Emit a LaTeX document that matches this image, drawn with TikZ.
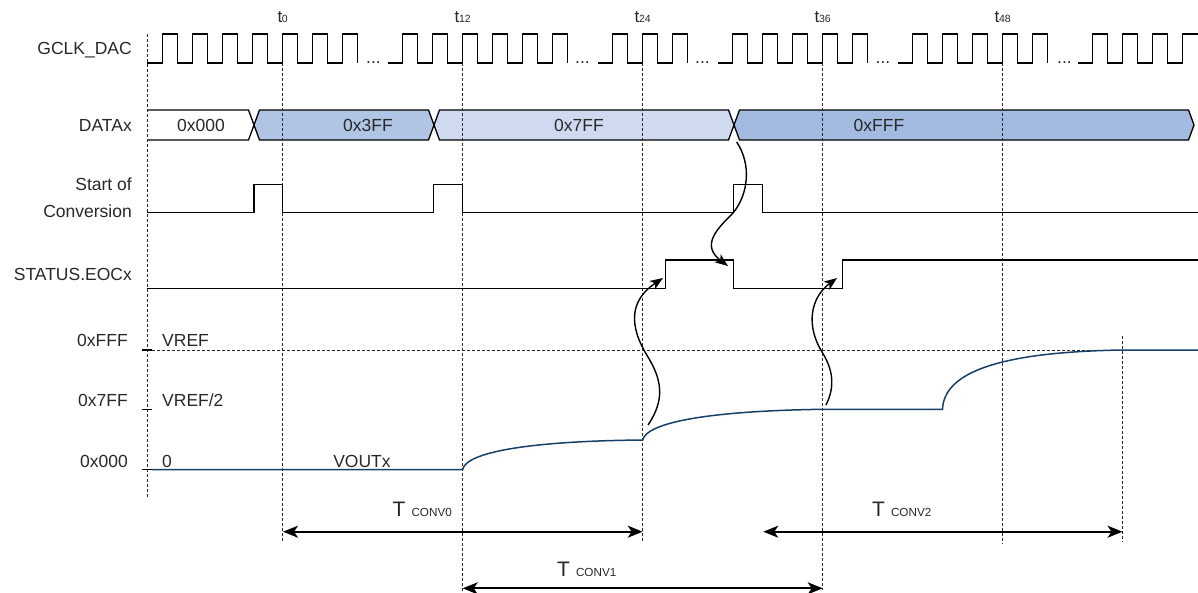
\documentclass[tikz,border=0pt]{standalone}
\usepackage{fontspec}
\setmainfont{Liberation Sans}
\usetikzlibrary{arrows.meta}
\definecolor{bA}{RGB}{176,196,228}
\definecolor{bB}{RGB}{207,218,241}
\definecolor{bC}{RGB}{163,187,224}
\definecolor{voutc}{RGB}{23,64,105}
\definecolor{txt}{RGB}{40,40,40}
\begin{document}
\begin{tikzpicture}[x=1pt,y=-1pt,
  sig/.style={line width=1.3pt, black, line join=miter},
  gridl/.style={dash pattern=on 3pt off 2pt, line width=0.8pt, black!85},
  lbl/.style={font=\fontsize{17.5}{21}\selectfont, text=txt, inner sep=0pt},
  tl/.style={font=\fontsize{17}{19}\selectfont, text=txt, inner sep=0pt},
  voutl/.style={line width=1.5pt, voutc},
  carrow/.style={line width=1.4pt, black, -{Stealth[length=13pt,width=10pt,inset=3.5pt]}},
  tarrow/.style={line width=1.8pt, black, {Stealth[length=15pt,width=12pt,inset=4pt]}-{Stealth[length=15pt,width=12pt,inset=4pt]}}
]
\useasboundingbox (0,0) rectangle (1198,592);

% ---------- DATAx bus fills ----------
\draw[sig] (147,110) -- (248.5,110) -- (254,125) -- (248.5,140) -- (147,140);
\filldraw[sig, fill=bA] (254,125) -- (259.5,110) -- (428.5,110) -- (434,125) -- (428.5,140) -- (259.5,140) -- cycle;
\filldraw[sig, fill=bB] (434,125) -- (439.5,110) -- (728.5,110) -- (734,125) -- (728.5,140) -- (439.5,140) -- cycle;
\filldraw[sig, fill=bC] (734,125) -- (739.5,110) -- (1188.5,110) -- (1194,125) -- (1188.5,140) -- (739.5,140) -- cycle;

% ---------- grid ----------
\draw[gridl] (147,34) -- (147,497);
\draw[gridl] (282.7,63) -- (282.7,541);
\draw[gridl] (462.7,63) -- (462.7,592);
\draw[gridl] (642.7,63) -- (642.7,541);
\draw[gridl] (822.7,63) -- (822.7,590);
\draw[gridl] (1002.7,63) -- (1002.7,544);
\draw[gridl] (1122.5,336) -- (1122.5,542);
\draw[gridl] (152,350) -- (1198,350);

% ---------- clock ----------
\draw[sig] (147,63) \foreach \r in {162.7,192.7,222.7,252.7,282.7,312.7,342.7} { -- (\r,63) -- (\r,34) -- (\r+15,34) -- (\r+15,63) };
\draw[sig] (388,63) \foreach \r in {402.7,432.7,462.7,492.7,522.7,552.7} { -- (\r,63) -- (\r,34) -- (\r+15,34) -- (\r+15,63) };
\draw[sig] (598,63) \foreach \r in {612.7,642.7,672.7} { -- (\r,63) -- (\r,34) -- (\r+15,34) -- (\r+15,63) };
\draw[sig] (718,63) \foreach \r in {732.7,762.7,792.7,822.7,852.7} { -- (\r,63) -- (\r,34) -- (\r+15,34) -- (\r+15,63) };
\draw[sig] (898,63) \foreach \r in {912.7,942.7,972.7,1002.7,1032.7} { -- (\r,63) -- (\r,34) -- (\r+15,34) -- (\r+15,63) };
\draw[sig] (1078,63) \foreach \r in {1092.7,1122.7,1152.7} { -- (\r,63) -- (\r,34) -- (\r+15,34) -- (\r+15,63) } -- (1182.7,63) -- (1182.7,34) -- (1197.5,34);
\node[lbl, anchor=base] (e1) at (373.5,63) {...};
\node[lbl, anchor=base] (e2) at (582.5,63) {...};
\node[lbl, anchor=base] (e3) at (702.5,63) {...};
\node[lbl, anchor=base] (e4) at (883,63) {...};
\node[lbl, anchor=base] (e5) at (1064.5,63) {...};

% ---------- time labels ----------
\node[tl, anchor=base] (t0) at (282.7,22) {t\kern-0.3pt{\fontsize{10.5}{11}\selectfont 0}};
\node[tl, anchor=base] (t12) at (462.7,22) {t\kern-0.3pt{\fontsize{10.5}{11}\selectfont 12}};
\node[tl, anchor=base] (t24) at (642.7,22) {t\kern-0.3pt{\fontsize{10.5}{11}\selectfont 24}};
\node[tl, anchor=base] (t36) at (822.7,22) {t\kern-0.3pt{\fontsize{10.5}{11}\selectfont 36}};
\node[tl, anchor=base] (t48) at (1002.7,22) {t\kern-0.3pt{\fontsize{10.5}{11}\selectfont 48}};

% ---------- start of conversion ----------
\draw[sig] (147,212.7) -- (254,212.7) -- (254,184.5) -- (282.7,184.5) -- (282.7,212.7)
  -- (433.5,212.7) -- (433.5,184.5) -- (462.7,184.5) -- (462.7,212.7)
  -- (733.3,212.7) -- (733.3,184.5) -- (762.5,184.5) -- (762.5,212.7) -- (1198,212.7);

% ---------- EOC ----------
\draw[sig] (147,288.3) -- (665.7,288.3) -- (665.7,260) -- (733.3,260) -- (733.3,288.3)
  -- (842.3,288.3) -- (842.3,260) -- (1198,260);

% ---------- level ticks ----------
\draw[line width=1.2pt, black] (142,350) -- (152,350);
\draw[line width=1.2pt, black] (142,409.3) -- (152,409.3);
\draw[line width=1.2pt, black] (142,469.5) -- (152,469.5);

% ---------- VOUT ----------
\draw[voutl] (152,469.5) -- (462.7,469.5)
  .. controls (466,452) and (530,441) .. (642.7,440)
  .. controls (646,424) and (700,411) .. (822.7,409.3)
  -- (942.5,409.3)
  .. controls (944,372) and (1000,352) .. (1122.5,350) -- (1198,350);

% ---------- labels ----------
\node[lbl, anchor=base east] (gclk) at (132,54.5) {GCLK\_DAC};
\node[lbl, anchor=base east] (datax) at (132,131) {DATAx};
\node[lbl, anchor=base east] (soc1) at (132,190) {Start of};
\node[lbl, anchor=base east] (soc2) at (132,217) {Conversion};
\node[lbl, anchor=base east] (eoc) at (132,280) {STATUS.EOCx};
\node[lbl, anchor=base east] (hFFF) at (128,346) {0xFFF};
\node[lbl, anchor=base east] (h7FF) at (128,406) {0x7FF};
\node[lbl, anchor=base east] (h000) at (128,467) {0x000};
\node[lbl, anchor=base west] (vref) at (162,346) {VREF};
\node[lbl, anchor=base west] (vref2) at (162,406) {VREF/2};
\node[lbl, anchor=base west] (zero) at (162,467) {0};
\node[lbl, anchor=base] (voutx) at (362,467) {VOUTx};
\node[lbl, anchor=base] (d0) at (201,131) {0x000};
\node[lbl, anchor=base] (d1) at (368,131) {0x3FF};
\node[lbl, anchor=base] (d2) at (579,131) {0x7FF};
\node[lbl, anchor=base] (d3) at (879,131) {0xFFF};

% ---------- causal arrows ----------
\coordinate (a1s) at (736.7,142);
\coordinate (a1e) at (728,266);
\draw[carrow] (a1s) .. controls (752,165) and (748,195) .. (733,213) .. controls (718,228) and (700,245) .. (a1e);
\coordinate (a2s) at (648,425);
\coordinate (a2e) at (663,278);
\draw[carrow] (a2s) .. controls (665,400) and (662,380) .. (648,357) .. controls (628,325) and (630,300) .. (a2e);
\coordinate (a3s) at (826,405);
\coordinate (a3e) at (837,278);
\draw[carrow] (a3s) .. controls (836,385) and (832,368) .. (822,352) .. controls (806,326) and (810,298) .. (a3e);

% ---------- conversion times ----------
\coordinate (c0l) at (283,531.7);
\coordinate (c0r) at (642.7,531.7);
\draw[tarrow] (c0l) -- (c0r);
\coordinate (c1l) at (462.7,588.3);
\coordinate (c1r) at (822.7,588.3);
\draw[tarrow] (c1l) -- (c1r);
\coordinate (c2l) at (763.3,531.7);
\coordinate (c2r) at (1122.5,531.7);
\draw[tarrow] (c2l) -- (c2r);
\node[anchor=base west, inner sep=0pt, text=txt] (tc0) at (392.5,516.5) {{\fontsize{21}{22}\selectfont T}\hspace{6pt}{\fontsize{11.7}{12}\selectfont CONV0}};
\node[anchor=base west, inner sep=0pt, text=txt] (tc1) at (557,576.5) {{\fontsize{21}{22}\selectfont T}\hspace{6pt}{\fontsize{11.7}{12}\selectfont CONV1}};
\node[anchor=base west, inner sep=0pt, text=txt] (tc2) at (872,516.5) {{\fontsize{21}{22}\selectfont T}\hspace{6pt}{\fontsize{11.7}{12}\selectfont CONV2}};
\end{tikzpicture}
\end{document}
